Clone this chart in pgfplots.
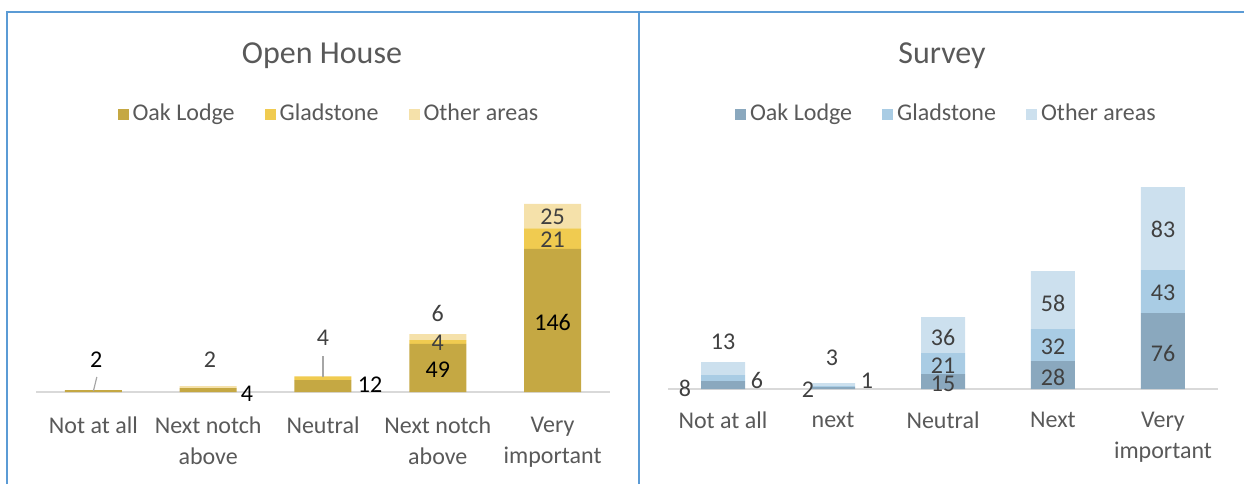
\documentclass[border=0pt]{standalone}
\usepackage{pgfplots}
\pgfplotsset{compat=1.18}
\usepackage{fontspec}
\setmainfont{Carlito}
\definecolor{txt}{HTML}{595959}
\definecolor{lbl}{HTML}{404040}
\definecolor{oakL}{HTML}{C5A843}
\definecolor{gladL}{HTML}{F0CB50}
\definecolor{othL}{HTML}{F5E1AA}
\definecolor{oakR}{HTML}{8AA8BE}
\definecolor{gladR}{HTML}{A9CCE4}
\definecolor{othR}{HTML}{CCE0EE}
\definecolor{framec}{HTML}{5B9BD5}
\definecolor{axl}{HTML}{D9D9D9}
\definecolor{lead}{HTML}{A6A6A6}
\tikzset{
  dl/.style={font=\fontsize{12}{14}\selectfont, text=lbl},
  dk/.style={font=\fontsize{12}{14}\selectfont, text=black},
}
\newcommand{\leftlabels}{%
\draw[lead, line width=0.6pt] (axis cs:0,1) -- (axis cs:0.03,15.3);
\draw[lead, line width=0.6pt] (axis cs:2,15) -- (axis cs:2,36.7);
\node[dk] at (axis cs:0.025,32.7) {2};
\node[dl] at (axis cs:1.016,32.7) {2};
\node[dk] at (axis cs:1.338,-2) {4};
\node[dl] at (axis cs:2.0,55) {4};
\node[dk] at (axis cs:2.41,7.1) {12};
\node[dl] at (axis cs:3,80.6) {6};
\node[dl] at (axis cs:3,50) {4};
\node[dk] at (axis cs:3,22.4) {49};
\node[dl] at (axis cs:4,178.6) {25};
\node[dl] at (axis cs:4,155) {21};
\node[dk] at (axis cs:4,71) {146};
}
\newcommand{\rightlabels}{%
\node[dl] at (axis cs:0,47) {13};
\node[dl] at (axis cs:-0.345,1) {8};
\node[dl] at (axis cs:0.309,9) {6};
\node[dl] at (axis cs:0.99,31) {3};
\node[dl] at (axis cs:0.773,-1) {2};
\node[dl] at (axis cs:1.309,8) {1};
\node[dl] at (axis cs:2,52) {36};
\node[dl] at (axis cs:2,23) {21};
\node[dl] at (axis cs:2,5) {15};
\node[dl] at (axis cs:3,86) {58};
\node[dl] at (axis cs:3,42) {32};
\node[dl] at (axis cs:3,12) {28};
\node[dl] at (axis cs:4,160) {83};
\node[dl] at (axis cs:4,96) {43};
\node[dl] at (axis cs:4,36) {76};
}
\pgfplotsset{
  chartstyle/.style={
    scale only axis, ybar stacked, clip=false,
    xmin=-0.5, xmax=4.5, ymin=0, ymax=200,
    axis y line=none, axis x line*=bottom,
    x axis line style={axl, line width=0.75pt, -},
    ytick=\empty, xtick={0,1,2,3,4}, major tick length=0pt,
    xticklabel style={align=center, font=\fontsize{12}{15.5}\selectfont, text=txt},
    legend columns=3,
    legend style={draw=none, fill=none, font=\fontsize{12}{14}\selectfont, text=txt,
      /tikz/every even column/.append style={column sep=13pt}},
    legend image code/.code={\fill[##1] (-2pt,-2.75pt) rectangle (3.5pt,2.75pt);},
  },
}
\begin{document}
\begin{tikzpicture}
\useasboundingbox (0,0) rectangle (622pt,242pt);
\draw[framec, line width=1pt] (3.5pt,0) -- (3.5pt,236pt) -- (622pt,236pt);
\draw[framec, line width=1pt] (319.5pt,0) -- (319.5pt,236pt);
\node[text=txt, font=\fontsize{16}{19}\selectfont] at (161pt,214pt) {Open House};
\node[text=txt, font=\fontsize{16}{19}\selectfont] at (471pt,214pt) {Survey};

\begin{axis}[chartstyle, at={(18pt,46pt)}, anchor=south west,
  width=287pt, height=98pt, bar width=28.5pt,
  xticklabel style={yshift=-9pt},
  xticklabels={Not at all, Next notch\\above, Neutral, Next notch\\above, Very\\important},
  legend style={at={(0.512,1.418)}, anchor=center},
  after end axis/.code={\leftlabels}]
\addplot[fill=oakL, draw=none] coordinates {(0,2) (1,4) (2,12) (3,49) (4,146)};
\addplot[fill=gladL, draw=none] coordinates {(0,0) (1,0) (2,4) (3,4) (4,21)};
\addplot[fill=othL, draw=none] coordinates {(0,0) (1,2) (2,0) (3,6) (4,25)};
\legend{Oak Lodge, Gladstone, Other areas}
\end{axis}

\begin{axis}[chartstyle, at={(334pt,47.5pt)}, anchor=south west,
  width=275pt, height=100pt, bar width=22pt,
  xticklabel style={yshift=-8pt},
  xticklabels={Not at all, next, Neutral, Next, Very\\important},
  legend style={at={(0.508,1.375)}, anchor=center},
  after end axis/.code={\rightlabels}]
\addplot[fill=oakR, draw=none] coordinates {(0,8) (1,2) (2,15) (3,28) (4,76)};
\addplot[fill=gladR, draw=none] coordinates {(0,6) (1,1) (2,21) (3,32) (4,43)};
\addplot[fill=othR, draw=none] coordinates {(0,13) (1,3) (2,36) (3,58) (4,83)};
\legend{Oak Lodge, Gladstone, Other areas}
\end{axis}
\end{tikzpicture}
\end{document}
